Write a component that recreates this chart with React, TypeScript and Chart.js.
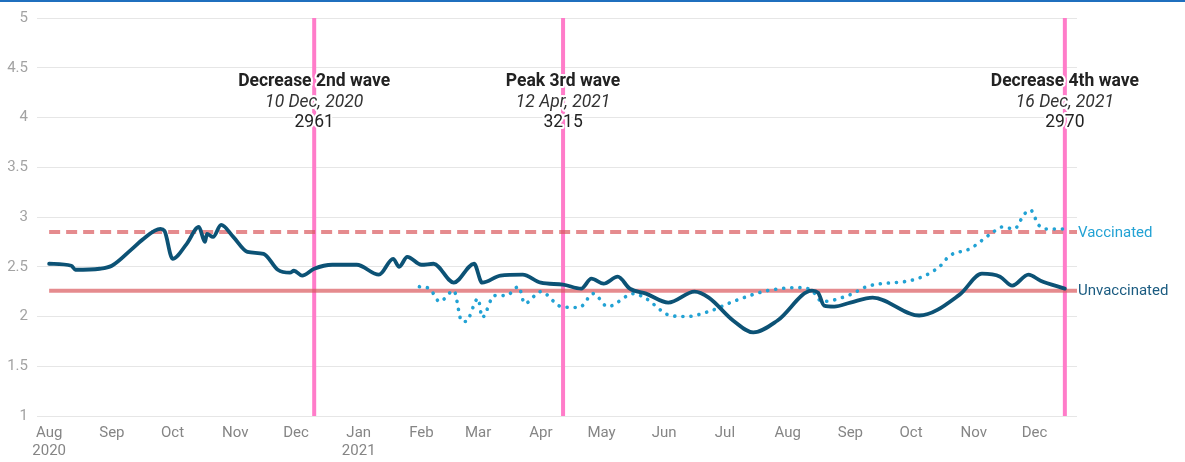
import React, { useEffect, useRef } from "react";
import { Chart, registerables } from "chart.js";

Chart.register(...registerables);

// ---------- DATA ----------
const unvaxDates = [
  "2020-08-01", "2020-08-12", "2020-08-14", "2020-08-26", "2020-09-01", "2020-09-11", "2020-09-16",
  "2020-09-25", "2020-09-27", "2020-10-01", "2020-10-08", "2020-10-14", "2020-10-17", "2020-10-18",
  "2020-10-21", "2020-10-25", "2020-10-31", "2020-11-07", "2020-11-15", "2020-11-22", "2020-11-28",
  "2020-11-30", "2020-12-04", "2020-12-10", "2020-12-19", "2020-12-31", "2021-01-11", "2021-01-18",
  "2021-01-21", "2021-01-25", "2021-02-01", "2021-02-07", "2021-02-17", "2021-02-27", "2021-03-03",
  "2021-03-12", "2021-03-23", "2021-04-01", "2021-04-12", "2021-04-21", "2021-04-26", "2021-05-02",
  "2021-05-09", "2021-05-15", "2021-05-23", "2021-06-03", "2021-06-16", "2021-06-23", "2021-07-05",
  "2021-07-15", "2021-07-27", "2021-08-13", "2021-08-16", "2021-08-19", "2021-08-24", "2021-09-01",
  "2021-09-12", "2021-10-05", "2021-10-25", "2021-11-05", "2021-11-14", "2021-11-20", "2021-11-28",
  "2021-12-04", "2021-12-16",
];
const unvaxValues = [
  2.53, 2.51, 2.47, 2.48, 2.51, 2.68, 2.77,
  2.88, 2.86, 2.58, 2.73, 2.90, 2.75, 2.83,
  2.80, 2.92, 2.80, 2.65, 2.63, 2.47, 2.44,
  2.46, 2.41, 2.48, 2.52, 2.52, 2.42, 2.58,
  2.50, 2.60, 2.52, 2.53, 2.34, 2.53, 2.34,
  2.41, 2.42, 2.34, 2.32, 2.28, 2.38, 2.33,
  2.40, 2.28, 2.23, 2.14, 2.25, 2.19, 1.96,
  1.84, 1.96, 2.26, 2.24, 2.11, 2.10, 2.14,
  2.19, 2.01, 2.22, 2.43, 2.40, 2.31, 2.42,
  2.36, 2.28,
];

const vaxDates = [
  "2021-01-31", "2021-02-05", "2021-02-10", "2021-02-17", "2021-02-21", "2021-02-23", "2021-03-01",
  "2021-03-03", "2021-03-09", "2021-03-15", "2021-03-21", "2021-03-24", "2021-04-01", "2021-04-11",
  "2021-04-20", "2021-04-27", "2021-05-04", "2021-05-17", "2021-05-23", "2021-06-04", "2021-06-12",
  "2021-06-23", "2021-07-05", "2021-07-22", "2021-08-07", "2021-08-13", "2021-08-18", "2021-09-01",
  "2021-09-09", "2021-10-04", "2021-10-15", "2021-10-20", "2021-10-30", "2021-11-10", "2021-11-15",
  "2021-11-21", "2021-11-26", "2021-11-29", "2021-12-03", "2021-12-07", "2021-12-16",
];
const vaxValues = [
  2.30, 2.28, 2.15, 2.26, 1.95, 1.95, 2.18,
  1.99, 2.21, 2.21, 2.30, 2.13, 2.25, 2.10,
  2.09, 2.23, 2.10, 2.23, 2.18, 2.01, 2.00,
  2.05, 2.15, 2.26, 2.29, 2.26, 2.15, 2.22,
  2.30, 2.38, 2.50, 2.61, 2.68, 2.84, 2.90,
  2.88, 3.03, 3.07, 2.92, 2.88, 2.88,
];

const refLabels = ["Vaccinated", "Unvaccinated"];
const refValues = [2.85, 2.26];
const refStartDate = "2020-08-01";

const eventDates = ["2020-12-10", "2021-04-12", "2021-12-16"];
const eventTitles = ["Decrease 2nd wave", "Peak 3rd wave", "Decrease 4th wave"];
const eventDateLabels = ["10 Dec, 2020", "12 Apr, 2021", "16 Dec, 2021"];
const eventCounts = ["2961", "3215", "2970"];

const tickDates = [
  "2020-08-01", "2020-09-01", "2020-10-01", "2020-11-01", "2020-12-01", "2021-01-01",
  "2021-02-01", "2021-03-01", "2021-04-01", "2021-05-01", "2021-06-01", "2021-07-01",
  "2021-08-01", "2021-09-01", "2021-10-01", "2021-11-01", "2021-12-01",
];
const tickLabels: (string | string[])[] = [
  ["Aug", "2020"], "Sep", "Oct", "Nov", "Dec", ["Jan", "2021"],
  "Feb", "Mar", "Apr", "May", "Jun", "Jul",
  "Aug", "Sep", "Oct", "Nov", "Dec",
];
const xMinDate = "2020-07-26";
const xMaxDate = "2021-12-22";
const yMin = 1;
const yMax = 5;
const yStep = 0.5;

// ---------- HELPERS ----------
const ORIGIN = Date.UTC(2020, 7, 1);
const dayOf = (s: string) => (Date.parse(s + "T00:00:00Z") - ORIGIN) / 86400000;

const UNVAX_COLOR = "#0c5275";
const VAX_COLOR = "#22a2d4";
const REF_COLOR = "rgba(216,84,88,0.68)";
const EVENT_COLOR = "#ff7cc9";

const overlayPlugin = {
  id: "overlay",
  beforeDatasetsDraw(chart: any) {
    const { ctx, chartArea, scales } = chart;
    ctx.save();
    ctx.strokeStyle = EVENT_COLOR;
    ctx.lineWidth = 4;
    eventDates.forEach((d) => {
      const x = scales.x.getPixelForValue(dayOf(d));
      ctx.beginPath();
      ctx.moveTo(x, chartArea.top);
      ctx.lineTo(x, chartArea.bottom);
      ctx.stroke();
    });
    ctx.restore();
  },
  afterDatasetsDraw(chart: any) {
    const { ctx, chartArea, scales } = chart;
    ctx.save();
    ctx.textAlign = "center";
    ctx.textBaseline = "alphabetic";
    ctx.lineJoin = "round";
    const drawText = (t: string, x: number, y: number, font: string, color: string) => {
      ctx.font = font;
      ctx.strokeStyle = "#ffffff";
      ctx.lineWidth = 4;
      ctx.strokeText(t, x, y);
      ctx.fillStyle = color;
      ctx.fillText(t, x, y);
    };
    eventDates.forEach((d, i) => {
      const x = scales.x.getPixelForValue(dayOf(d));
      drawText(eventTitles[i], x, 86, "bold 17.5px Roboto", "#222222");
      drawText(eventDateLabels[i], x, 107, "italic 17.5px Roboto", "#333333");
      drawText(eventCounts[i], x, 127, "17.5px Roboto", "#222222");
    });
    ctx.textAlign = "left";
    ctx.textBaseline = "middle";
    ctx.font = "15px Roboto";
    refLabels.forEach((lab, i) => {
      const y = scales.y.getPixelForValue(refValues[i]);
      ctx.fillStyle = i === 0 ? VAX_COLOR : "#1a5b80";
      ctx.fillText(lab, chartArea.right + 1, y + 1);
    });
    ctx.restore();
  },
  afterDraw(chart: any) {
    const { ctx } = chart;
    ctx.save();
    ctx.fillStyle = "#1f6fbe";
    ctx.fillRect(0, 0, chart.width, 2);
    ctx.restore();
  },
};

export default function App() {
  const ref = useRef<HTMLCanvasElement | null>(null);

  useEffect(() => {
    if (!ref.current) return;
    const xMin = dayOf(xMinDate);
    const xMax = dayOf(xMaxDate);
    const unvax = unvaxDates.map((d, i) => ({ x: dayOf(d), y: unvaxValues[i] }));
    const vax = vaxDates.map((d, i) => ({ x: dayOf(d), y: vaxValues[i] }));
    const refData = refValues.map((v) => [
      { x: dayOf(refStartDate), y: v },
      { x: xMax, y: v },
    ]);
    const tickVals = tickDates.map(dayOf);

    const chart = new Chart(ref.current, {
      type: "line",
      data: {
        datasets: [
          {
            label: "Unvaccinated",
            data: unvax,
            borderColor: UNVAX_COLOR,
            borderWidth: 3.8,
            pointRadius: 0,
            tension: 0.4,
            cubicInterpolationMode: "monotone",
            borderCapStyle: "round",
            borderJoinStyle: "round",
          },
          {
            label: "Vaccinated",
            data: vax,
            borderColor: VAX_COLOR,
            borderWidth: 3.6,
            borderDash: [0.1, 8],
            borderCapStyle: "round",
            pointRadius: 0,
            tension: 0.4,
            cubicInterpolationMode: "monotone",
          },
          {
            label: "Vaccinated mean",
            data: refData[0],
            borderColor: REF_COLOR,
            borderWidth: 4,
            borderDash: [11, 6],
            pointRadius: 0,
          },
          {
            label: "Unvaccinated mean",
            data: refData[1],
            borderColor: REF_COLOR,
            borderWidth: 4,
            pointRadius: 0,
          },
        ],
      },
      options: {
        animation: false,
        responsive: false,
        parsing: true,
        layout: { padding: { top: 15, right: 108, left: 0, bottom: 0 } },
        plugins: {
          legend: { display: false },
          tooltip: { enabled: false },
        },
        scales: {
          x: {
            type: "linear",
            min: xMin,
            max: xMax,
            grid: { display: false, drawTicks: false },
            border: { display: false },
            afterBuildTicks: (scale: any) => {
              scale.ticks = tickVals.map((v) => ({ value: v }));
            },
            afterFit: (scale: any) => {
              scale.height = 46;
            },
            ticks: {
              autoSkip: false,
              maxRotation: 0,
              minRotation: 0,
              padding: 8,
              color: "#858585",
              font: { family: "Roboto", size: 15, lineHeight: 1.2 },
              callback: (value: any) => {
                const idx = tickVals.findIndex((v) => Math.abs(v - value) < 0.01);
                return idx >= 0 ? tickLabels[idx] : "";
              },
            },
          },
          y: {
            min: yMin,
            max: yMax,
            grid: { color: "#e6e6e6", lineWidth: 1, drawTicks: false },
            border: { display: false },
            afterFit: (scale: any) => {
              scale.width = 37;
            },
            ticks: {
              stepSize: yStep,
              padding: 9,
              color: "#a3a3a3",
              font: { family: "Roboto", size: 15 },
              callback: (v: any) => String(v),
            },
          },
        },
      },
      plugins: [overlayPlugin],
    } as any);

    return () => chart.destroy();
  }, []);

  return (
    <div style={{ position: "absolute", left: 0, top: 0, width: 1185, height: 462, background: "#fff" }}>
      <canvas ref={ref} width={1185} height={462} />
    </div>
  );
}
